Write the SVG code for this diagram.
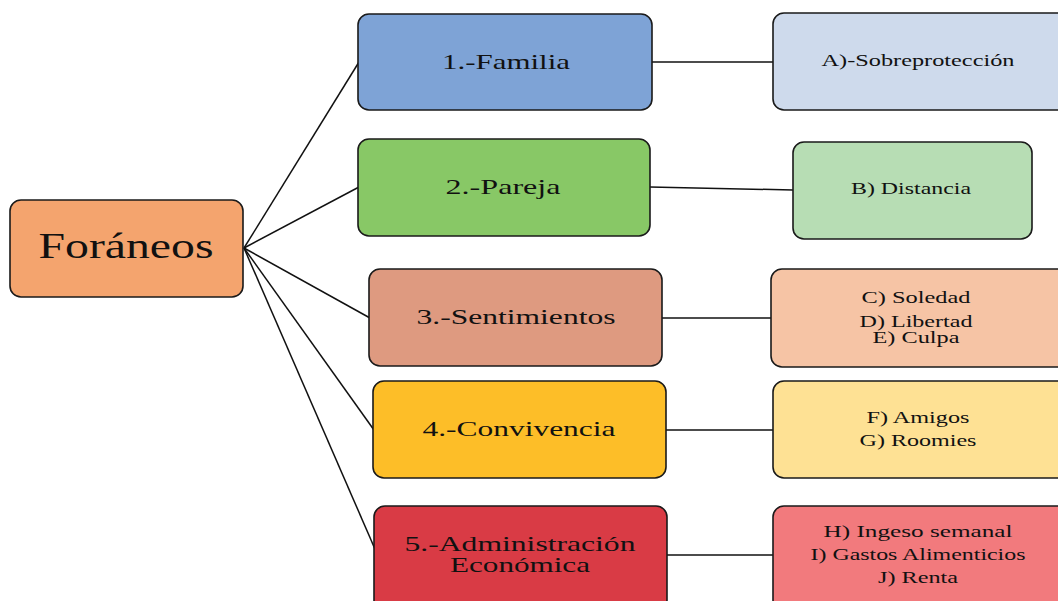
<svg xmlns="http://www.w3.org/2000/svg" width="1058" height="601" viewBox="0 0 1058 601">
<style>
.box{stroke:#1a1a1a;stroke-width:1.6}
.t{font-family:"Liberation Serif","Times New Roman",serif;fill:#111;text-anchor:middle}
.m{font-size:22px}
.r{font-size:17px}
.c{stroke:#111;stroke-width:1.5;fill:none}
</style>
<rect width="1058" height="601" fill="#ffffff"/>
<g id="connectors">
<line class="c" x1="244" y1="248" x2="359" y2="62"/>
<line class="c" x1="244" y1="248" x2="359" y2="187"/>
<line class="c" x1="244" y1="248" x2="370" y2="318"/>
<line class="c" x1="244" y1="248" x2="374" y2="430"/>
<line class="c" x1="244" y1="248" x2="378" y2="556"/>
<line class="c" x1="652" y1="62" x2="773" y2="62"/>
<line class="c" x1="650" y1="187" x2="793" y2="190"/>
<line class="c" x1="662" y1="318" x2="771" y2="318"/>
<line class="c" x1="666" y1="430" x2="773" y2="430"/>
<line class="c" x1="667" y1="555" x2="773" y2="555"/>
</g>
<g id="foraneos">
<rect class="box" x="10" y="200" width="233" height="97" rx="11" fill="#F4A46E"/>
<text class="t" x="126" y="258" font-size="35" textLength="175" lengthAdjust="spacingAndGlyphs">Foráneos</text>
</g>
<g id="familia">
<rect class="box" x="358" y="14" width="294" height="96" rx="11" fill="#7EA3D6"/>
<text class="t m" x="506" y="69" textLength="128" lengthAdjust="spacingAndGlyphs">1.-Familia</text>
</g>
<g id="pareja">
<rect class="box" x="358" y="139" width="292" height="97" rx="11" fill="#88C866"/>
<text class="t m" x="503" y="194" textLength="115" lengthAdjust="spacingAndGlyphs">2.-Pareja</text>
</g>
<g id="sentimientos">
<rect class="box" x="369" y="269" width="293" height="97" rx="11" fill="#DE9A80"/>
<text class="t m" x="516" y="324" textLength="199" lengthAdjust="spacingAndGlyphs">3.-Sentimientos</text>
</g>
<g id="convivencia">
<rect class="box" x="373" y="381" width="293" height="97" rx="11" fill="#FDBE28"/>
<text class="t m" x="519" y="436" textLength="193" lengthAdjust="spacingAndGlyphs">4.-Convivencia</text>
</g>
<g id="administracion">
<rect class="box" x="374" y="506" width="293" height="105" rx="11" fill="#D93B45"/>
<text class="t m" x="520" y="551" textLength="231" lengthAdjust="spacingAndGlyphs">5.-Administración</text>
<text class="t m" x="520" y="572" textLength="140" lengthAdjust="spacingAndGlyphs">Económica</text>
</g>
<g id="sobreproteccion">
<rect class="box" x="773" y="13" width="300" height="97" rx="11" fill="#CEDAEC"/>
<text class="t r" x="918" y="66" textLength="193" lengthAdjust="spacingAndGlyphs">A)-Sobreprotección</text>
</g>
<g id="distancia">
<rect class="box" x="793" y="142" width="239" height="97" rx="11" fill="#B7DDB4"/>
<text class="t r" x="911" y="194" textLength="120" lengthAdjust="spacingAndGlyphs">B) Distancia</text>
</g>
<g id="soledad">
<rect class="box" x="771" y="269" width="300" height="98" rx="11" fill="#F6C4A5"/>
<text class="t r" x="916" y="303" textLength="109" lengthAdjust="spacingAndGlyphs">C) Soledad</text>
<text class="t r" x="916" y="327" textLength="113" lengthAdjust="spacingAndGlyphs">D) Libertad</text>
<text class="t r" x="916" y="343" textLength="87" lengthAdjust="spacingAndGlyphs">E) Culpa</text>
</g>
<g id="amigos">
<rect class="box" x="773" y="381" width="300" height="97" rx="11" fill="#FEE194"/>
<text class="t r" x="918" y="423" textLength="103" lengthAdjust="spacingAndGlyphs">F) Amigos</text>
<text class="t r" x="918" y="446" textLength="117" lengthAdjust="spacingAndGlyphs">G) Roomies</text>
</g>
<g id="ingreso">
<rect class="box" x="773" y="506" width="300" height="105" rx="11" fill="#F27A7D"/>
<text class="t r" x="918" y="537" textLength="189" lengthAdjust="spacingAndGlyphs">H)  Ingeso semanal</text>
<text class="t r" x="918" y="560" textLength="215" lengthAdjust="spacingAndGlyphs">I) Gastos Alimenticios</text>
<text class="t r" x="918" y="583" textLength="80" lengthAdjust="spacingAndGlyphs">J) Renta</text>
</g>
</svg>
